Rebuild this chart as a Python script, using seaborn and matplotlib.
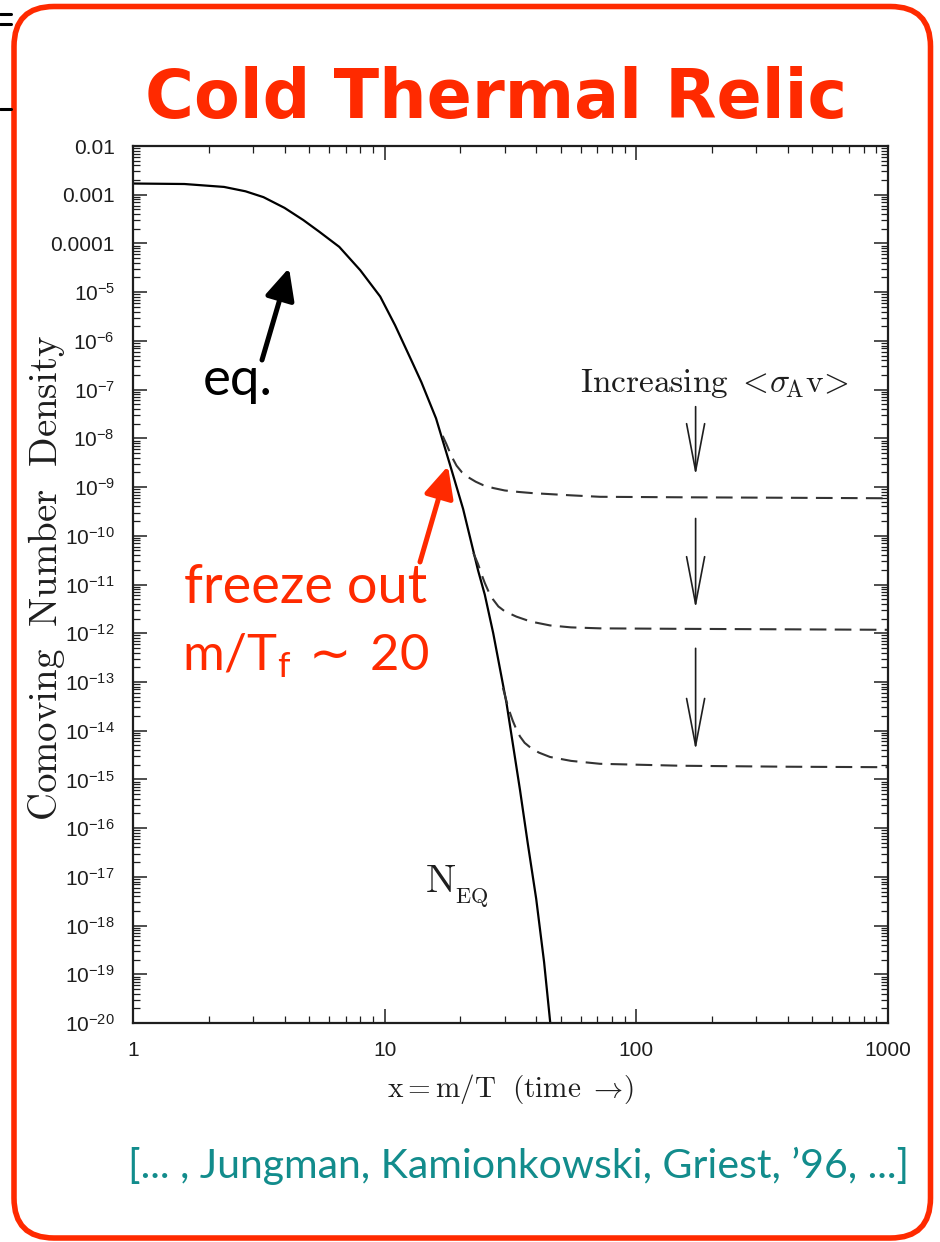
import numpy as np
import seaborn as sns
import matplotlib
matplotlib.use("Agg")
import matplotlib.pyplot as plt
import matplotlib.transforms as mtransforms
from matplotlib.patches import FancyBboxPatch
from matplotlib.lines import Line2D
from matplotlib.ticker import LogLocator, NullFormatter

# ---------------- data ----------------
# equilibrium comoving number density N_EQ (log10 values)
neq_x = [1.0, 1.6, 2.3, 2.8, 3.3, 4.0, 4.75, 5.5, 6.6, 8.0, 9.6, 11.0, 12.9, 14.0, 16.0,
         18.2, 20.5, 23.5, 25.0, 27.0, 30.5, 34.5, 37.0, 40.0, 43.0, 45.5]
neq_log = [-2.77, -2.78, -2.84, -2.93, -3.05, -3.27, -3.52, -3.76, -4.07, -4.55, -5.09,
           -5.68, -6.45, -6.85, -7.59, -8.55, -9.45, -10.71, -11.21, -12.0, -13.44,
           -15.22, -16.3, -17.45, -18.75, -20.0]

# frozen-out relic curves (dashed), increasing <sigma_A v> downwards
relic1_x = [17.0, 17.6, 18.4, 19.3, 20.3, 21.5, 23.0, 24.6, 27.0, 30.0, 34.0, 38.8, 55.0, 71.7, 150.0, 400.0, 1000.0]
relic1_log = [-7.95, -8.12, -8.36, -8.56, -8.70, -8.80, -8.89, -8.96, -9.02, -9.07, -9.10, -9.125, -9.17, -9.20, -9.21, -9.22, -9.23]

relic2_x = [22.5, 23.5, 24.3, 25.0, 26.0, 26.9, 28.3, 30.0, 33.4, 38.0, 45.4, 55.0, 71.7, 150.0, 400.0, 1000.0]
relic2_log = [-10.35, -10.58, -10.80, -10.97, -11.17, -11.30, -11.45, -11.55, -11.66, -11.76, -11.84, -11.88, -11.90, -11.91, -11.92, -11.93]

relic3_x = [29.5, 30.5, 31.4, 32.3, 33.4, 34.5, 36.0, 38.0, 41.0, 45.4, 55.0, 71.7, 150.0, 400.0, 1000.0]
relic3_log = [-13.12, -13.40, -13.62, -13.80, -13.98, -14.12, -14.25, -14.35, -14.45, -14.54, -14.62, -14.68, -14.72, -14.74, -14.75]

# "Increasing <sigma v>" arrows: x position and (start, end) log10 y
incr_arrow_x = 172.0
incr_arrow_spans = [(-7.35, -8.76), (-9.645, -11.49), (-12.31, -14.40)]

x_ticks = [1, 10, 100, 1000]
x_tick_labels = ["1", "10", "100", "1000"]
y_tick_exps = [-2, -3, -4, -5, -6, -7, -8, -9, -10, -11, -12, -13, -14, -15, -16, -17, -18, -19, -20]
y_tick_labels = ["0.01", "0.001", "0.0001",
                 r"$\mathregular{10^{-5}}$", r"$\mathregular{10^{-6}}$", r"$\mathregular{10^{-7}}$",
                 r"$\mathregular{10^{-8}}$", r"$\mathregular{10^{-9}}$", r"$\mathregular{10^{-10}}$",
                 r"$\mathregular{10^{-11}}$", r"$\mathregular{10^{-12}}$", r"$\mathregular{10^{-13}}$",
                 r"$\mathregular{10^{-14}}$", r"$\mathregular{10^{-15}}$", r"$\mathregular{10^{-16}}$",
                 r"$\mathregular{10^{-17}}$", r"$\mathregular{10^{-18}}$", r"$\mathregular{10^{-19}}$",
                 r"$\mathregular{10^{-20}}$"]

# ---------------- style ----------------
sns.set_style("ticks")
plt.rcParams['font.family'] = ['Liberation Sans', 'DejaVu Sans']
plt.rcParams['mathtext.fontset'] = 'cm'
plt.rcParams['lines.scale_dashes'] = False

RED = '#FF2A00'
TEAL = '#128C8C'
INK = '#1e1e1e'
W, H = 940, 1242

fig = plt.figure(figsize=(W / 100, H / 100), dpi=100)
fig.patch.set_facecolor('white')
ax = fig.add_axes([133 / W, 1 - 1023 / H, 755 / W, 877 / H])
ax.set_facecolor('white')

# curves
sns.lineplot(x=neq_x, y=10 ** np.array(neq_log), ax=ax, color='black', lw=1.6,
             sort=False, estimator=None)
for xs, ls in [(relic1_x, relic1_log), (relic2_x, relic2_log), (relic3_x, relic3_log)]:
    sns.lineplot(x=xs, y=10 ** np.array(ls), ax=ax, color='#333333', lw=1.5,
                 linestyle=(0, (12, 6)), sort=False, estimator=None)

ax.set_xscale('log')
ax.set_yscale('log')
ax.set_xlim(1, 1000)
ax.set_ylim(1e-20, 1e-2)

ax.set_xticks(x_ticks)
ax.set_xticklabels(x_tick_labels)
ax.set_yticks(10.0 ** np.array(y_tick_exps))
ax.set_yticklabels(y_tick_labels)
ax.xaxis.set_minor_locator(LogLocator(base=10, subs=np.arange(2, 10), numticks=100))
ax.yaxis.set_minor_locator(LogLocator(base=10, subs=np.arange(2, 10), numticks=100))
ax.xaxis.set_minor_formatter(NullFormatter())
ax.yaxis.set_minor_formatter(NullFormatter())

ax.tick_params(which='both', direction='in', top=True, right=True, colors=INK)
ax.tick_params(which='major', length=10, width=1.1, labelsize=15, pad=13)
ax.tick_params(which='minor', length=5, width=0.9)
for s in ax.spines.values():
    s.set_linewidth(1.6)
    s.set_color(INK)

ax.set_xlabel(r"$\mathrm{x{=}m/T\ \ (time\ \rightarrow\!)}$", fontsize=21, color=INK)
ax.xaxis.set_label_coords(0.5, -0.056)
ax.xaxis.label.set_va('top')
ax.set_ylabel(r"$\mathrm{Comoving\ \ Number\ \ Density}$", fontsize=28, color=INK)
ax.yaxis.set_label_coords(-0.088, 0.507)

# "Increasing <sigma_A v>" text and arrows
ax.text(205, 10 ** -7.05, r"$\mathrm{Increasing\ }<\!\sigma_{\!\rm A}\mathrm{v}\!>$",
        fontsize=24, ha='center', va='baseline', color=INK)
for y0, y1 in incr_arrow_spans:
    ax.annotate('', xy=(incr_arrow_x, 10 ** y1), xytext=(incr_arrow_x, 10 ** y0),
                xycoords='data', textcoords='data',
                arrowprops=dict(arrowstyle='->,head_length=3.4,head_width=0.65',
                                mutation_scale=10, lw=1.2, color=INK,
                                shrinkA=0, shrinkB=0))

# N_EQ label
fig.text(425 / W, 1 - 892 / H, r"$\mathrm{N}$", fontsize=29, va='baseline',
         ha='left', color=INK)
fig.text(455 / W, 1 - 903 / H, r"$\mathrm{EQ}$", fontsize=16, va='baseline',
         ha='left', color=INK)

# ---------------- slide overlays ----------------
fig.text(496 / W, 1 - 118 / H, "Cold Thermal Relic", ha='center', va='baseline',
         fontsize=48, fontweight='bold', family='DejaVu Sans', color=RED)

fig.text(203 / W, 1 - 395 / H, "eq.", fontsize=38, family='Lato', va='baseline',
         ha='left', color='black')
ax.annotate('', xy=(289 / W, 1 - 268 / H), xytext=(262 / W, 1 - 360 / H),
            xycoords='figure fraction', textcoords='figure fraction',
            arrowprops=dict(arrowstyle='-|>,head_length=0.95,head_width=0.45',
                            mutation_scale=20, lw=3.6, color='black',
                            shrinkA=0, shrinkB=0))

fig.text(306 / W, 1 - 603 / H, "freeze out", fontsize=39, family='Lato', va='baseline',
         ha='center', color=RED)
fig.text(305 / W, 1 - 670 / H, r"$\mathregular{m/T_f}\,{\sim}\,\mathregular{20}$", fontsize=36.5,
         family='Lato', math_fontfamily='dejavusans', va='baseline', ha='center', color=RED)
ax.annotate('', xy=(448 / W, 1 - 466 / H), xytext=(420 / W, 1 - 562 / H),
            xycoords='figure fraction', textcoords='figure fraction',
            arrowprops=dict(arrowstyle='-|>,head_length=0.95,head_width=0.45',
                            mutation_scale=20, lw=3.6, color=RED,
                            shrinkA=0, shrinkB=0))

fig.text(519 / W, 1 - 1178 / H, "[... , Jungman, Kamionkowski, Griest, \u201996, ...]",
         fontsize=29.5, family='Lato', va='baseline', ha='center', color=TEAL)

# rounded red frame
frame = FancyBboxPatch((14, 4), 916.5, 1231.5, boxstyle="round,pad=0,rounding_size=40",
                       transform=mtransforms.IdentityTransform(), fill=False,
                       ec=RED, lw=4.0)
fig.add_artist(frame)

# slide fragments at top-left
for yy in (14, 24, 109):
    fig.add_artist(Line2D([0, 11 / W], [1 - yy / H, 1 - yy / H], transform=fig.transFigure,
                          color='black', lw=2.2))

fig.savefig("out.png", dpi=100, facecolor='white')
